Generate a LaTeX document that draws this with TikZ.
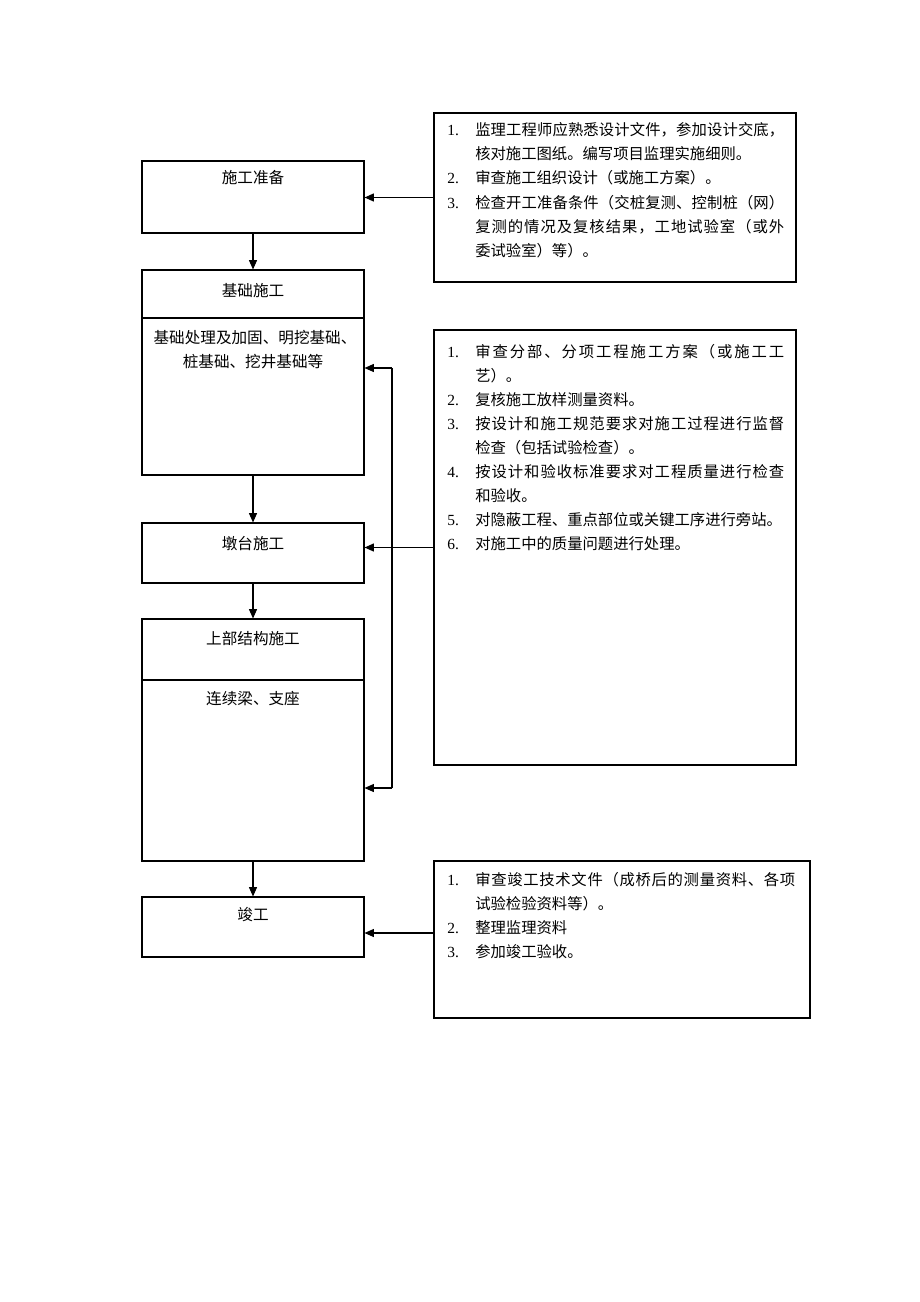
\documentclass[tikz,border=0pt]{standalone}
\usepackage{fontspec}
\setmainfont{Liberation Serif}
\newfontfamily\cjk{Noto Sans CJK SC}
\usetikzlibrary{arrows.meta}
\def\pxu{0.75pt}
\def\jlspr#1{\ifx#1\relax\else\hskip0pt plus 1fil#1\expandafter\jlspr\fi}
\def\jlfirst#1#2\relax{#1\jlspr#2\relax}
\newcommand\jline[2]{\hbox to #1{\jlfirst#2\relax}}
\tikzset{
  box/.style={draw, line width=0.8pt, inner sep=0pt, minimum width=#1*\pxu},
  txt/.style={inner sep=0pt, anchor=base west, font=\cjk\fontsize{11.5}{14}\selectfont},
  ctxt/.style={inner sep=0pt, anchor=base, font=\cjk\fontsize{11.7}{14}\selectfont},
  num/.style={inner sep=0pt, anchor=base west, font=\rmfamily\fontsize{11.6}{14}\selectfont},
  arr/.style={line width=0.8pt, -{Triangle[length=7pt,width=6pt]}},
  ln/.style={line width=0.8pt}
}
\begin{document}
\begin{tikzpicture}[x=0.75pt,y=-0.75pt]
\useasboundingbox (0,0) rectangle (920,1302);
% left boxes
\node[box=222, minimum height=72*\pxu] (b1) at (253,197) {};
\node[box=222, minimum height=205*\pxu] (b2) at (253,372.5) {};
\node[box=222, minimum height=60*\pxu] (b3) at (253,553) {};
\node[box=222, minimum height=242*\pxu] (b4) at (253,740) {};
\node[box=222, minimum height=60*\pxu] (b5) at (253,927) {};
\coordinate (d2) at (142,318);
\coordinate (d4) at (142,680);
\draw[ln] (d2) -- (d2 -| b2.east);
\draw[ln] (d4) -- (d4 -| b4.east);
% left texts
\node[ctxt] (t1) at (253,184) {施工准备};
\node[ctxt] (t2) at (253,296) {基础施工};
\node[ctxt] (t2a) at (255,343) {基础处理及加固、明挖基础、};
\node[ctxt] (t2b) at (253,367) {桩基础、挖井基础等};
\node[ctxt] (t3) at (253,549) {墩台施工};
\node[ctxt] (t4) at (253,644) {上部结构施工};
\node[ctxt] (t4a) at (253,704) {连续梁、支座};
\node[ctxt] (t5) at (253,920) {竣工};
% right boxes
\node[box=362, minimum height=169*\pxu] (r1) at (615,197.5) {};
\node[box=362, minimum height=435*\pxu] (r2) at (615,547.5) {};
\node[box=376, minimum height=157*\pxu] (r3) at (622,939.5) {};
% r1 text
\node[num] (n11) at (447,136) {1.};
\node[txt] (l11) at (475,136) {\jline{231.75pt}{监理工程师应熟悉设计文件，参加设计交底，}};
\node[txt] (l12) at (475,160) {核对施工图纸。编写项目监理实施细则。};
\node[num] (n12) at (447,184) {2.};
\node[txt] (l13) at (475,184) {审查施工组织设计（或施工方案）。};
\node[num] (n13) at (447,208) {3.};
\node[txt] (l14) at (475,208) {\jline{231.75pt}{检查开工准备条件（交桩复测、控制桩（网）}};
\node[txt] (l15) at (475,232) {\jline{231.75pt}{复测的情况及复核结果，工地试验室（或外}};
\node[txt] (l16) at (475,256) {委试验室）等）。};
% r2 text
\node[num] (n21) at (447,357) {1.};
\node[txt] (l21) at (475,357) {\jline{231.75pt}{审查分部、分项工程施工方案（或施工工}};
\node[txt] (l22) at (475,381) {艺）。};
\node[num] (n22) at (447,405) {2.};
\node[txt] (l23) at (475,405) {复核施工放样测量资料。};
\node[num] (n23) at (447,429) {3.};
\node[txt] (l24) at (475,429) {\jline{231.75pt}{按设计和施工规范要求对施工过程进行监督}};
\node[txt] (l25) at (475,453) {检查（包括试验检查）。};
\node[num] (n24) at (447,477) {4.};
\node[txt] (l26) at (475,477) {\jline{231.75pt}{按设计和验收标准要求对工程质量进行检查}};
\node[txt] (l27) at (475,501) {和验收。};
\node[num] (n25) at (447,525) {5.};
\node[txt] (l28) at (475,525) {对隐蔽工程、重点部位或关键工序进行旁站。};
\node[num] (n26) at (447,549) {6.};
\node[txt] (l29) at (475,549) {对施工中的质量问题进行处理。};
% r3 text
\node[num] (n31) at (447,885) {1.};
\node[txt] (l31) at (475,885) {\jline{240pt}{审查竣工技术文件（成桥后的测量资料、各项}};
\node[txt] (l32) at (475,909) {试验检验资料等）。};
\node[num] (n32) at (447,933) {2.};
\node[txt] (l33) at (475,933) {整理监理资料};
\node[num] (n33) at (447,957) {3.};
\node[txt] (l34) at (475,957) {参加竣工验收。};
% vertical flow arrows
\draw[arr] (b1.south) -- (b2.north);
\draw[arr] (b2.south) -- (b3.north);
\draw[arr] (b3.south) -- (b4.north);
\draw[arr] (b4.south) -- (b5.north);
% right-to-left arrows
\draw[arr] (r1.west) -- (r1.west -| b1.east);
\draw[arr] (r2.west) -- (r2.west -| b3.east);
\coordinate (r3a) at (434,933);
\draw[arr] (r3a) -- (r3a -| b5.east);
% feedback line
\coordinate (jt) at (392,368);
\coordinate (jb) at (392,788);
\draw[ln] (jt) -- (jb);
\draw[arr] (jt) -- (jt -| b2.east);
\draw[arr] (jb) -- (jb -| b4.east);
\end{tikzpicture}
\end{document}
